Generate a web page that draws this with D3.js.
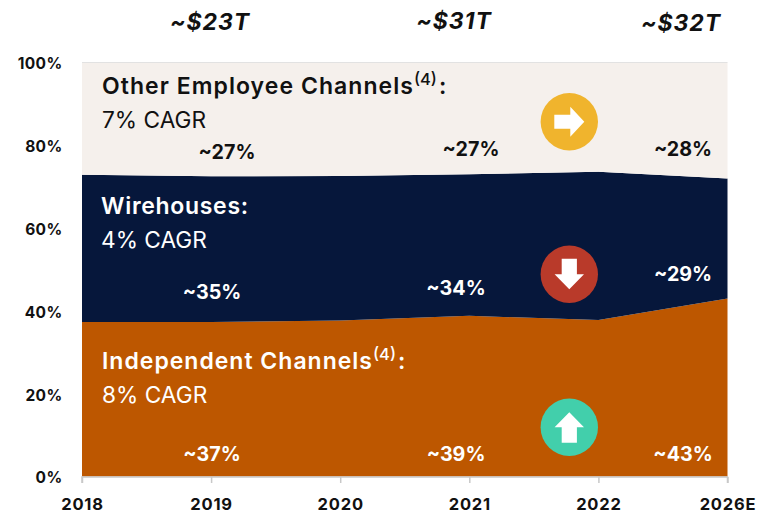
<!DOCTYPE html>
<html><head><meta charset="utf-8">
<script src="https://cdn.jsdelivr.net/npm/d3@7"></script>
<style>html,body{margin:0;padding:0;background:#fff}svg{display:block}text{font-family:"Inter",sans-serif}</style>
</head><body><div id="c"></div>
<script>
const years = ["2018","2019","2020","2021","2022","2026E"];
const independent = [37.3,37.3,37.7,38.8,37.8,43.0];
const wirehouses = [35.6,35.2,34.9,34.2,35.8,29.0];
const otherEmployee = [27.1,27.5,27.4,27.0,26.4,28.0];
const yTicks = [0,20,40,60,80,100];
const totalLabels = ["~$23T","~$31T","~$32T"];
const shareLabels = ["~27%","~27%","~28%","~35%","~34%","~29%","~37%","~39%","~43%"];
const shareX = [227,471,683,212,456,683,212,456,683];
const shareY = [152,149,149,292,288,274,454,454,454];
const shareFill = ["#111","#111","#111","#fff","#fff","#fff","#fff","#fff","#fff"];
const colors = {independent:"#bd5700",wirehouses:"#06173b",otherEmployee:"#f5f0ec"};

const W=758,H=513,x0=82,x1=727.5,yB=476.5,yT=62.5;
const svg=d3.select("#c").append("svg").attr("width",W).attr("height",H);
const x=d3.scalePoint().domain(years).range([x0,x1]);
const y=d3.scaleLinear().domain([0,100]).range([yB,yT]);
const rows=years.map((k,i)=>({year:k,independent:independent[i],wirehouses:wirehouses[i],otherEmployee:otherEmployee[i]}));
const stack=d3.stack().keys(["independent","wirehouses","otherEmployee"])(rows);
const area=d3.area().x(d=>x(d.data.year)).y0(d=>y(d[0])).y1(d=>y(d[1]));
svg.selectAll("path.a").data(stack).join("path").attr("class","a").attr("d",area).attr("fill",d=>colors[d.key]);
svg.append("line").attr("x1",x0).attr("x2",x1).attr("y1",yT).attr("y2",yT).attr("stroke","#e2e2e2").attr("stroke-width",1);

const ax=svg.append("g").attr("transform",`translate(0,${yB+.5})`).call(d3.axisBottom(x).tickSize(6).tickPadding(15));
ax.selectAll("path,line").attr("stroke","#c8c8c8").attr("stroke-width",1.5);
ax.select(".domain").attr("d",`M${x0},6V0H${x1}V6`);
ax.selectAll("text").attr("font-size",16.5).attr("font-weight",700).attr("letter-spacing",.8).attr("fill","#111").style("font-family",'"Inter",sans-serif');
const ay=svg.append("g").attr("transform",`translate(${x0},1.5)`).call(d3.axisLeft(y).tickValues(yTicks).tickFormat(d=>d+"%").tickSize(0).tickPadding(19.5));
ay.select(".domain").remove();
ay.selectAll("text").attr("font-size",15.5).attr("font-weight",700).attr("letter-spacing",.35).attr("fill","#111").style("font-family",'"Inter",sans-serif');

[[210,30],[454,29],[681,31]].forEach((d,i)=>svg.append("text").attr("x",d[0]).attr("y",d[1]).attr("text-anchor","middle").attr("font-size",23).attr("letter-spacing",.9).attr("font-weight",700).attr("font-style","italic").attr("fill","#111").text(totalLabels[i]));
shareLabels.forEach((t,i)=>svg.append("text").attr("x",shareX[i]).attr("y",shareY[i]+7).attr("text-anchor","middle").attr("font-size",19.7).attr("font-weight",700).attr("fill",shareFill[i]).text(t));

function head(tx,ty,name,sup,sub,fill,ls){
 const t=svg.append("text").attr("x",tx).attr("y",ty).attr("font-size",23).attr("font-weight",600).attr("fill",fill);
 t.append("tspan").attr("letter-spacing",ls).text(name);
 if(sup){t.append("tspan").attr("font-size",16.5).attr("font-weight",500).attr("dy",-9).text(sup);t.append("tspan").attr("dy",9).attr("dx",2).text(":");}
 svg.append("text").attr("x",tx).attr("y",ty+34).attr("font-size",22.7).attr("font-weight",400).attr("fill",fill).text(sub);
}
head(102,94,"Other Employee Channels","(4)","7% CAGR","#111",1.05);
head(101,214,"Wirehouses:",null,"4% CAGR","#fff",.7);
head(102,369,"Independent Channels","(4)","8% CAGR","#fff",1);

const arrows={right:"M-15,-7H1V-15L15,0L1,15V7H-15Z",down:"M-7.6,-15.5H7.6V0H14.7L0,15L-14.7,0H-7.6Z",up:"M-7.6,15.5H7.6V0H14.7L0,-15L-14.7,0H-7.6Z"};
[[569.3,121.7,"#f0b42d","right"],[569.3,274.2,"#b93a2a","down"],[569.3,427.3,"#42cfab","up"]].forEach(d=>{
 const g=svg.append("g").attr("transform",`translate(${d[0]},${d[1]})`);
 g.append("circle").attr("r",28.7).attr("fill",d[2]);
 g.append("path").attr("d",arrows[d[3]]).attr("fill","#fff");
});
</script></body></html>
